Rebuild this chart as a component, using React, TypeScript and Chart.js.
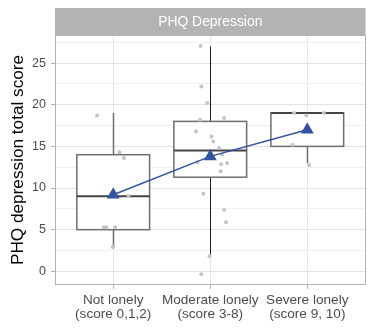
import { useEffect, useRef } from "react";
import { Chart, registerables } from "chart.js";

Chart.register(...registerables);

// ---------- data ----------
const categories: string[][] = [
  ["Not lonely", "(score 0,1,2)"],
  ["Moderate lonely", "(score 3-8)"],
  ["Severe lonely", "(score 9, 10)"],
];
const panelTitle = "PHQ Depression";
const yTitle = "PHQ depression total score";
const yTicks = [0, 2.5, 5, 7.5, 10, 12.5, 15, 17.5, 20, 22.5, 25, 27.5];
const yMin = -1.64;
const yMax = 28.37;

const boxMin = [3, 2, 13];
const boxQ1 = [5, 11.3, 15];
const boxMedian = [9, 14.5, 19];
const boxQ3 = [14, 18, 19];
const boxMax = [19, 27, 19];

const meanValues = [9.2, 13.8, 17.0];

const notLonelyValues = [18.7, 14.3, 13.6, 9.05, 5.3, 5.25, 5.3, 2.9];
const notLonelyJitter = [-0.166, 0.064, 0.112, 0.156, -0.095, -0.07, 0.02, -0.003];

const moderateValues = [27.05, 22.2, 20.2, 18.2, 18.4, 16.8, 16.2, 15.6, 14.8, 14.0, 13.0, 12.85, 12.0, 13.1, 9.3, 7.36, 5.9, 1.8, -0.36];
const moderateJitter = [-0.099, -0.092, -0.031, -0.105, 0.143, -0.146, 0.013, 0.031, 0.092, 0.122, 0.173, 0.112, 0.107, -0.133, -0.071, 0.143, 0.163, -0.007, -0.092];

const severeValues = [19.0, 18.7, 19.0, 15.2, 12.76];
const severeJitter = [-0.136, -0.01, 0.17, -0.153, 0.02];

// ---------- styles ----------
const FONT = "'Liberation Sans', Arial, sans-serif";
const BOX_HALF = 0.375;
const BOX_COLOR = "#6e6e6e";
const MEDIAN_COLOR = "#444444";
const WHISKER_COLORS = ["#6e6e6e", "#1a1a1a", "#6e6e6e"];
const WHISKER_WIDTHS = [1.5, 1, 1.5];
const MEAN_COLOR = "#3153a4";
const POINT_COLOR = "#c4c4c4";
const STRIP_TOP = 8;

const groups = [
  { values: notLonelyValues, jitter: notLonelyJitter },
  { values: moderateValues, jitter: moderateJitter },
  { values: severeValues, jitter: severeJitter },
];

const pointData = groups.flatMap((g, i) =>
  g.values.map((v, k) => ({ x: i + 1 + g.jitter[k], y: v }))
);
const meanData = meanValues.map((v, i) => ({ x: i + 1, y: v }));

const boxPlugin = {
  id: "boxes",
  beforeDatasetsDraw(chart: any) {
    const { ctx, scales } = chart;
    const x = scales.x;
    const y = scales.y;
    ctx.save();
    categories.forEach((_, i) => {
      const cx = Math.round(x.getPixelForValue(i + 1)) + 0.5;
      const left = x.getPixelForValue(i + 1 - BOX_HALF);
      const right = x.getPixelForValue(i + 1 + BOX_HALF);
      const yMinP = y.getPixelForValue(boxMin[i]);
      const yQ1 = y.getPixelForValue(boxQ1[i]);
      const yMed = y.getPixelForValue(boxMedian[i]);
      const yQ3 = y.getPixelForValue(boxQ3[i]);
      const yMaxP = y.getPixelForValue(boxMax[i]);
      // whiskers
      ctx.strokeStyle = WHISKER_COLORS[i];
      ctx.lineWidth = WHISKER_WIDTHS[i];
      ctx.beginPath();
      if (yMaxP < yQ3) {
        ctx.moveTo(cx, yMaxP);
        ctx.lineTo(cx, yQ3);
      }
      if (yMinP > yQ1) {
        ctx.moveTo(cx, yQ1);
        ctx.lineTo(cx, yMinP);
      }
      ctx.stroke();
      // box
      ctx.fillStyle = "#ffffff";
      ctx.fillRect(left, yQ3, right - left, yQ1 - yQ3);
      ctx.strokeStyle = BOX_COLOR;
      ctx.lineWidth = 1.5;
      ctx.strokeRect(left, yQ3, right - left, yQ1 - yQ3);
      // median
      ctx.strokeStyle = MEDIAN_COLOR;
      ctx.lineWidth = 2;
      ctx.beginPath();
      ctx.moveTo(left, yMed);
      ctx.lineTo(right, yMed);
      ctx.stroke();
    });
    ctx.restore();
  },
  afterDraw(chart: any) {
    const { ctx, chartArea } = chart;
    const { left, right, top, bottom } = chartArea;
    ctx.save();
    // strip
    ctx.fillStyle = "#b3b3b3";
    ctx.fillRect(left, STRIP_TOP, right - left, top - STRIP_TOP);
    ctx.fillStyle = "#ffffff";
    ctx.font = `13.9px ${FONT}`;
    ctx.textAlign = "center";
    ctx.textBaseline = "middle";
    ctx.fillText(panelTitle, (left + right) / 2, (STRIP_TOP + top) / 2 + 0.5);
    // panel border
    ctx.strokeStyle = "#b3b3b3";
    ctx.lineWidth = 1;
    ctx.strokeRect(Math.round(left) + 0.5, Math.round(top) + 0.5, Math.round(right - left) - 1, Math.round(bottom - top) - 1);
    ctx.restore();
  },
};

export default function App() {
  const ref = useRef<HTMLCanvasElement>(null);
  useEffect(() => {
    const chart = new Chart(ref.current as HTMLCanvasElement, {
      type: "scatter",
      data: {
        datasets: [
          {
            type: "line",
            data: meanData,
            borderColor: MEAN_COLOR,
            backgroundColor: MEAN_COLOR,
            borderWidth: 1.5,
            pointStyle: "triangle",
            pointRadius: 7.5,
            pointBorderWidth: 0,
            showLine: true,
          } as any,
          {
            data: pointData,
            backgroundColor: POINT_COLOR,
            borderWidth: 0,
            pointRadius: 2,
          },
        ],
      },
      options: {
        responsive: false,
        animation: false,
        layout: { padding: { top: 35, right: 5, left: 0, bottom: 0 } },
        plugins: { legend: { display: false }, tooltip: { enabled: false } },
        scales: {
          x: {
            type: "linear",
            min: 0.4,
            max: 3.6,
            afterBuildTicks: (scale: any) => {
              scale.ticks = categories.map((_, i) => ({ value: i + 1 }));
            },
            afterFit: (scale: any) => {
              scale.height = 48;
            },
            grid: {
              color: "#e6e6e6",
              lineWidth: 1,
              tickColor: "#b3b3b3",
              tickLength: 4,
            },
            border: { display: false },
            ticks: {
              autoSkip: false,
              maxRotation: 0,
              padding: 4,
              color: "#4d4d4d",
              font: { family: FONT, size: 13.6, lineHeight: 1.05 },
              callback: (v: any) => categories[Math.round(Number(v)) - 1] as any,
            },
          },
          y: {
            type: "linear",
            min: yMin,
            max: yMax,
            afterBuildTicks: (scale: any) => {
              scale.ticks = yTicks.map((v) => ({ value: v }));
            },
            afterFit: (scale: any) => {
              scale.width = 55;
            },
            grid: {
              color: (c: any) => (c.tick && c.tick.value % 5 === 0 ? "#e3e3e3" : "#f1f1f1"),
              lineWidth: 1,
              tickColor: (c: any) => (c.tick && c.tick.value % 5 === 0 ? "#b3b3b3" : "rgba(0,0,0,0)"),
              tickLength: 4,
            },
            border: { display: false },
            ticks: {
              autoSkip: false,
              padding: 5,
              color: "#4d4d4d",
              font: { family: FONT, size: 12.5 },
              callback: (v: any) => (Number(v) % 5 === 0 ? String(v) : ""),
            },
            title: {
              display: true,
              text: yTitle,
              color: "#000000",
              font: { family: FONT, size: 17.2 },
              padding: { top: 8, bottom: 0 },
            },
          },
        },
      },
      plugins: [boxPlugin],
    } as any);
    return () => chart.destroy();
  }, []);
  return (
    <div style={{ position: "absolute", left: 0, top: 0, width: 373, height: 333 }}>
      <canvas ref={ref} width={373} height={333} style={{ display: "block" }} />
    </div>
  );
}
